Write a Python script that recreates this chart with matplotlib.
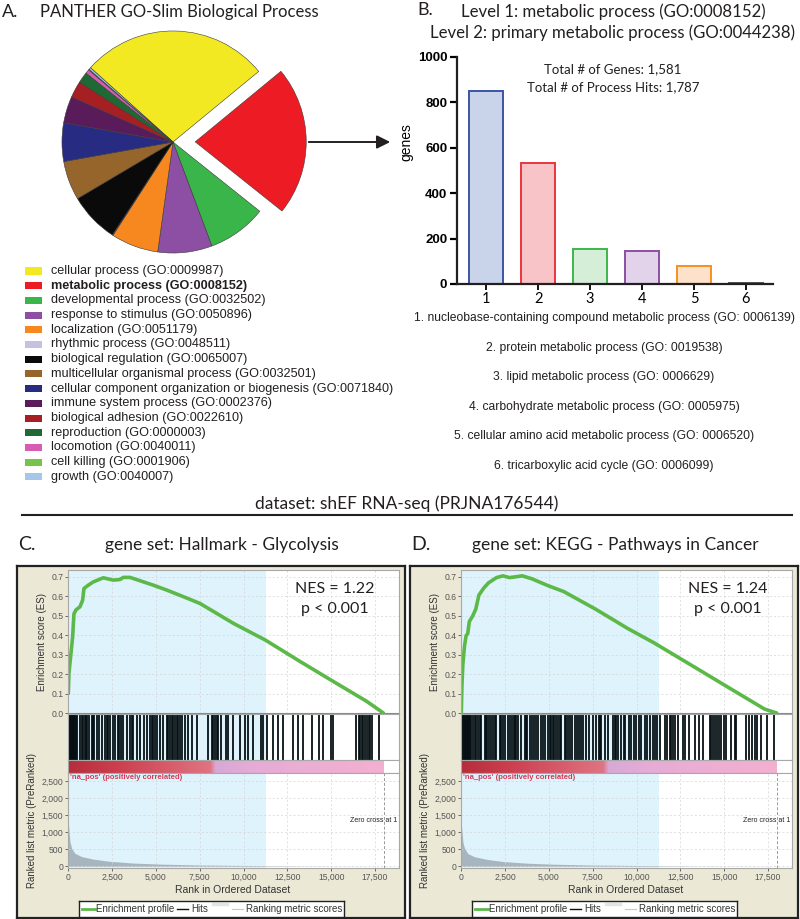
import numpy as np
import matplotlib
matplotlib.use("Agg")
import matplotlib.pyplot as plt
from matplotlib.patches import FancyArrowPatch, Rectangle
from matplotlib.colors import LinearSegmentedColormap
from matplotlib.ticker import FuncFormatter

plt.rcParams["font.family"] = ["Liberation Sans", "DejaVu Sans"]
MYR = ["Lato", "DejaVu Sans"]          # stand-in for the Myriad headings
INK = "#231f20"

# ---------------------------------------------------------------- data
pie_labels = ["cellular process", "metabolic process", "developmental process",
              "response to stimulus", "localization", "rhythmic process",
              "biological regulation", "multicellular organismal process",
              "cellular component organization or biogenesis",
              "immune system process", "biological adhesion", "reproduction",
              "locomotion", "cell killing", "growth"]
pie_codes = ["GO:0009987", "GO:0008152", "GO:0032502", "GO:0050896",
             "GO:0051179", "GO:0048511", "GO:0065007", "GO:0032501",
             "GO:0071840", "GO:0002376", "GO:0022610", "GO:0000003",
             "GO:0040011", "GO:0001906", "GO:0040007"]
pie_values = [27.4, 21.7, 8.6, 7.9, 6.9, 0.1, 7.3, 5.7, 5.6, 3.9, 2.4, 1.6,
              0.6, 0.1, 0.3]
pie_colors = ["#f2e923", "#ed1c24", "#39b54a", "#8c4fa3", "#f7881f", "#c5c1e0",
              "#0a0a0a", "#95652b", "#272c82", "#5a1b5b", "#a61f22", "#1f6a34",
              "#d65db1", "#78c24a", "#a5c6e9"]

bar_labels = ["1", "2", "3", "4", "5", "6"]
bar_values = [850, 535, 152, 147, 80, 4]
bar_desc = ["nucleobase-containing compound metabolic process (GO: 0006139)",
            "protein metabolic process (GO: 0019538)",
            "lipid metabolic process (GO: 0006629)",
            "carbohydrate metabolic process (GO: 0005975)",
            "cellular amino acid metabolic process (GO: 0006520)",
            "tricarboxylic acid cycle (GO: 0006099)"]
bar_edge = ["#3b55a5", "#e8363f", "#3cb54a", "#8b4fa5", "#f7901e", "#555555"]
bar_fill = ["#c9d3ea", "#f9c4c7", "#d5eed8", "#e2d3ea", "#fde1ca", "#e0e0e0"]

# GSEA - Hallmark glycolysis
glyc_rank = [0, 38, 133, 247, 323, 438, 666, 818, 894, 1142, 1427, 1998, 2568,
             2949, 3139, 3520, 4091, 4852, 5613, 6564, 7515, 9418, 11225,
             13223, 15126, 17028, 17980]
glyc_es = [0.10, 0.205, 0.29, 0.39, 0.51, 0.53, 0.546, 0.58, 0.64, 0.657,
           0.674, 0.695, 0.683, 0.686, 0.697, 0.697, 0.68, 0.657, 0.632, 0.598,
           0.563, 0.461, 0.376, 0.265, 0.162, 0.06, 0.0]
glyc_hits = [20, 57, 95, 133, 170, 209, 250, 285, 330, 381, 440, 514, 666, 761,
             856, 952, 1009, 1085, 1199, 1332, 1389, 1465, 1618, 1732, 1903,
             2093, 2188, 2284, 2379, 2569, 2664, 2855, 2912, 2988, 3140, 3330,
             3521, 3616, 3711, 3901, 4091, 4320, 4472, 4662, 4758, 4853, 4948,
             5043, 5233, 5424, 5614, 5709, 5804, 5899, 5995, 6090, 6185, 6280,
             6375, 6470, 6680, 6851, 7041, 7327, 7993, 8183, 8278, 8374, 8469,
             8564, 8697, 9001, 9134, 9420, 9801, 10086, 10276, 10562, 11000,
             11130, 11320, 11660, 11990, 12230, 12800, 13090, 13410, 13890,
             14330, 14520, 14990, 15125, 16420, 16560, 16650, 16750, 16840,
             16940, 17030, 17130, 17220, 17310, 17750]
glyc_mrank = [0, 95, 190, 380, 760, 1430, 2380, 3710, 5230, 7520, 11320, 13470,
              18000]
glyc_metric = [1290, 720, 525, 380, 285, 210, 145, 95, 65, 38, 18, 5, 0]

# GSEA - KEGG pathways in cancer
kegg_rank = [0, 37, 91, 183, 274, 365, 457, 640, 823, 1005, 1280, 1554, 2010,
             2376, 2742, 3108, 3473, 4022, 4936, 5850, 7678, 9506, 10970,
             13160, 14990, 17310, 18000]
kegg_es = [0.0, 0.145, 0.253, 0.344, 0.398, 0.407, 0.47, 0.497, 0.533, 0.606,
           0.642, 0.669, 0.696, 0.705, 0.696, 0.70, 0.705, 0.69, 0.655, 0.624,
           0.533, 0.434, 0.362, 0.244, 0.145, 0.02, 0.0]
kegg_hits = [20, 57, 114, 150, 190, 230, 266, 305, 343, 380, 419, 460, 495, 571,
             666, 761, 856, 952, 1047, 1142, 1332, 1427, 1484, 1560, 1713, 1808,
             1903, 1998, 2188, 2284, 2379, 2474, 2664, 2759, 2893, 2988, 3064,
             3140, 3235, 3425, 3654, 3711, 3768, 3901, 4034, 4149, 4282, 4377,
             4529, 4662, 4796, 4948, 5043, 5138, 5233, 5290, 5424, 5519, 5614,
             5709, 5899, 5995, 6090, 6185, 6318, 6508, 6603, 6698, 6813, 6946,
             7136, 7270, 7517, 7707, 7840, 7935, 7993, 8183, 8373, 8659, 8754,
             8849, 8944, 9134, 9287, 9363, 9553, 9706, 9858, 9991, 10124,
             10276, 10467, 10619, 10752, 10942, 11037, 11190, 11323, 11646,
             11741, 11894, 11989, 12084, 12179, 12370, 12655, 12788, 12979,
             13321, 13568, 13797, 14178, 14273, 14368, 14463, 14596, 14691,
             14805, 14996, 15129, 15414, 15605, 15700, 16271, 16423, 16594,
             16746, 16899, 17127, 17469, 17850]
kegg_mrank = [0, 95, 190, 380, 760, 1430, 2380, 3710, 5230, 7520, 11320, 13470,
              18000]
kegg_metric = [1250, 700, 520, 370, 280, 205, 140, 92, 62, 36, 17, 5, 0]

N_GENES = 18000
SHADE_END = 11300

# ---------------------------------------------------------------- layout
W, H = 800, 919
fig = plt.figure(figsize=(W / 100, H / 100), dpi=100, facecolor="white")


def box(x0, y0, x1, y1):
    return [x0 / W, 1 - y1 / H, (x1 - x0) / W, (y1 - y0) / H]


def ftext(x, y, s, **kw):
    kw.setdefault("va", "center")
    kw.setdefault("color", INK)
    return fig.text(x / W, 1 - y / H, s, **kw)


# ---- A: pie ---------------------------------------------------------
ftext(2, 12, "A.", fontsize=13, family=MYR)
ftext(40, 12, "PANTHER GO-Slim Biological Process", fontsize=12, family=MYR)

ax = fig.add_axes(box(33, 2, 313, 282))
explode = [0.2 if lab == "metabolic process" else 0 for lab in pie_labels]
ax.pie(pie_values, colors=pie_colors, startangle=138, counterclock=False,
       explode=explode, wedgeprops=dict(edgecolor="#3a3a3a", linewidth=0.4))
ax.set_xlim(-1.261, 1.261)
ax.set_ylim(-1.261, 1.261)
ax.axis("off")

fig.add_artist(FancyArrowPatch((306 / W, 1 - 142 / H), (393 / W, 1 - 142 / H),
                               transform=fig.transFigure, arrowstyle="-|>",
                               mutation_scale=20, lw=1.4, color=INK))

for i, (lab, code, col) in enumerate(zip(pie_labels, pie_codes, pie_colors)):
    y = 271 + i * 14.7
    fig.add_artist(Rectangle((25 / W, 1 - (y + 3.5) / H), 17 / W, 7 / H,
                             transform=fig.transFigure, color=col, lw=0))
    ftext(51, y, f"{lab} ({code})", fontsize=9.1,
          fontweight="bold" if lab == "metabolic process" else "normal")

# ---- B: bar chart ---------------------------------------------------
ftext(417, 10, "B.", fontsize=13, family=MYR)
ftext(613, 12, "Level 1: metabolic process (GO:0008152)", fontsize=12.1,
      family=MYR, ha="center")
ftext(613, 33, "Level 2: primary metabolic process (GO:0044238)", fontsize=12.1,
      family=MYR, ha="center")

bx = fig.add_axes(box(457, 57, 773, 284))
pos = np.arange(1, len(bar_values) + 1)
bx.bar(pos, bar_values, width=0.64, color=bar_fill, edgecolor=bar_edge,
       linewidth=1.4)
bx.set_xlim(0.44, 6.52)
bx.set_ylim(0, 1000)
bx.set_yticks([0, 200, 400, 600, 800, 1000])
bx.set_xticks(pos)
bx.set_xticklabels(bar_labels, family=MYR, fontsize=10.5)
for t in bx.get_yticklabels():
    t.set_fontweight("bold")
    t.set_fontsize(9.5)
for s in ("top", "right"):
    bx.spines[s].set_visible(False)
for s in ("left", "bottom"):
    bx.spines[s].set_linewidth(1.6)
    bx.spines[s].set_color(INK)
bx.tick_params(axis="y", length=5, width=1.6, pad=2)
bx.tick_params(axis="x", length=4, width=1.3, pad=2)
bx.set_ylabel("genes", fontsize=10)
bx.yaxis.set_label_coords(-0.139, 0.626)
bx.patch.set_alpha(0)
ftext(613, 69, "Total # of Genes: 1,581", fontsize=9.5, family=MYR, ha="center")
ftext(613, 87, "Total # of Process Hits: 1,787", fontsize=9.5, family=MYR,
      ha="center")

for i, d in enumerate(bar_desc):
    ftext(604, 318 + i * 29.6, f"{i + 1}. {d}", fontsize=8.7, ha="center")

# ---- dataset separator ------------------------------------------------
ftext(407, 504, "dataset: shEF RNA-seq (PRJNA176544)", fontsize=12.5,
      family=MYR, ha="center")
fig.add_artist(plt.Line2D([22 / W, 792 / W], [1 - 515 / H, 1 - 515 / H],
                          color=INK, lw=1.5))

# ---- C / D: GSEA ------------------------------------------------------
BEIGE = "#ebe8d6"
SHADE = "#def3fc"
GRID = "#d4d4d4"
GREEN = "#5cb947"
XMAX = 18870
cmap = LinearSegmentedColormap.from_list(
    "rank", [(0.0, "#b52d3b"), (0.15, "#cc3e4e"), (0.45, "#df7482"),
             (0.467, "#d7a9d6"), (0.6, "#e6acd6"), (1.0, "#f4b0cf")])
comma = FuncFormatter(lambda v, p: f"{int(v):,}")


def style(a):
    a.set_xlim(0, XMAX)
    for s in a.spines.values():
        s.set_color("#a8a8a8")
        s.set_linewidth(0.8)
    a.tick_params(labelsize=6.2, colors="#555555", length=2, width=0.6, pad=1.5)


def gsea(x0, letter, title, rank, es, hits, mrank, metric, nes):
    ftext(x0 + 1, 545, letter, fontsize=14, family=MYR)
    ftext(x0 + 205, 545, title, fontsize=12.5, family=MYR, ha="center")

    bg = fig.add_axes(box(x0, 566, x0 + 388, 918))
    bg.set_facecolor(BEIGE)
    bg.set_xticks([])
    bg.set_yticks([])
    for s in bg.spines.values():
        s.set_linewidth(1.6)
        s.set_color("#222222")

    p0, p1 = x0 + 51.3, x0 + 382

    # enrichment profile
    a = fig.add_axes(box(p0, 570, p1, 714))
    style(a)
    a.axvspan(0, SHADE_END, color=SHADE, lw=0, zorder=0)
    a.set_xticks(np.arange(0, 17501, 2500))
    a.set_yticks(np.arange(0, 0.71, 0.1))
    a.yaxis.set_major_formatter(FuncFormatter(lambda v, p: f"{v:.1f}"))
    a.grid(color=GRID, ls=(0, (3, 3)), lw=0.5)
    a.tick_params(axis="x", labelbottom=False, length=0)
    a.axhline(0, color="#888888", lw=0.8)
    a.plot(rank, es, color=GREEN, lw=2.6, solid_capstyle="round")
    a.set_ylim(-0.005, 0.735)
    ftext(x0 + 318, 589, f"NES = {nes}", fontsize=11.5, family=MYR, ha="center")
    ftext(x0 + 318, 609, "p < 0.001", fontsize=11.5, family=MYR, ha="center")
    ftext(x0 + 25, 642, "Enrichment score (ES)", fontsize=7, rotation=90,
          ha="center", color="#333333")

    # hits
    h = fig.add_axes(box(p0, 714, p1, 760))
    style(h)
    h.axvspan(0, SHADE_END, color=SHADE, lw=0, zorder=0)
    h.vlines(hits, 0, 1, color="#061014", lw=1.3)
    h.set_ylim(0, 1)
    h.set_xticks([])
    h.set_yticks([])

    # ranked list colour bar
    c = fig.add_axes(box(p0, 760, p1, 773))
    style(c)
    c.imshow(np.linspace(0, 1, 512)[None, :], cmap=cmap, aspect="auto",
             extent=[0, N_GENES, 0, 1])
    c.set_xlim(0, XMAX)
    c.set_ylim(0, 1)
    c.set_xticks([])
    c.set_yticks([])

    # ranked list metric
    m = fig.add_axes(box(p0, 773, p1, 868))
    style(m)
    m.axvspan(0, SHADE_END, color=SHADE, lw=0, zorder=0)
    m.set_xticks(np.arange(0, 17501, 2500))
    m.set_yticks(np.arange(0, 2501, 500))
    m.xaxis.set_major_formatter(comma)
    m.yaxis.set_major_formatter(comma)
    m.grid(color=GRID, ls=(0, (3, 3)), lw=0.5)
    m.fill_between(mrank, metric, color="#a7b5be", lw=0)
    m.axvline(N_GENES, color="#999999", ls=(0, (3, 2)), lw=0.7)
    m.set_ylim(-50, 2740)
    m.text(70, 2600, "'na_pos' (positively correlated)", fontsize=5.5,
           color="#d23c55", fontweight="bold", va="center")
    m.text(16080, 1350, "Zero cross at 1", fontsize=5, va="center",
           color="#222222", clip_on=True)
    ftext(x0 + 15, 820, "Ranked list metric (PreRanked)", fontsize=7,
          rotation=90, ha="center", color="#333333")
    ftext(x0 + 216, 890, "Rank in Ordered Dataset", fontsize=7.5, ha="center",
          color="#333333")

    # legend
    lg = fig.add_axes(box(x0 + 62, 901, x0 + 327, 917))
    lg.set_xlim(0, 265)
    lg.set_ylim(16, 0)
    lg.set_xticks([])
    lg.set_yticks([])
    for s in lg.spines.values():
        s.set_color("#222222")
        s.set_linewidth(1.0)
    lg.plot([3, 16], [8, 8], color=GREEN, lw=2)
    lg.text(17, 8.5, "Enrichment profile", fontsize=7, va="center",
            color="#333333")
    lg.plot([98, 109], [8, 8], color="#111111", lw=1)
    lg.text(112, 8.5, "Hits", fontsize=7, va="center", color="#333333")
    lg.plot([134, 148], [3, 3], color="#e4e4e4", lw=2.5)
    lg.plot([153, 164], [8, 8], color="#c8c8c8", lw=0.8)
    lg.text(167, 8.5, "Ranking metric scores", fontsize=7, va="center",
            color="#333333")


gsea(17, "C.", "gene set: Hallmark - Glycolysis", glyc_rank, glyc_es,
     glyc_hits, glyc_mrank, glyc_metric, "1.22")
gsea(410, "D.", "gene set: KEGG - Pathways in Cancer", kegg_rank, kegg_es,
     kegg_hits, kegg_mrank, kegg_metric, "1.24")

fig.savefig("out.png", dpi=100, facecolor="white")
